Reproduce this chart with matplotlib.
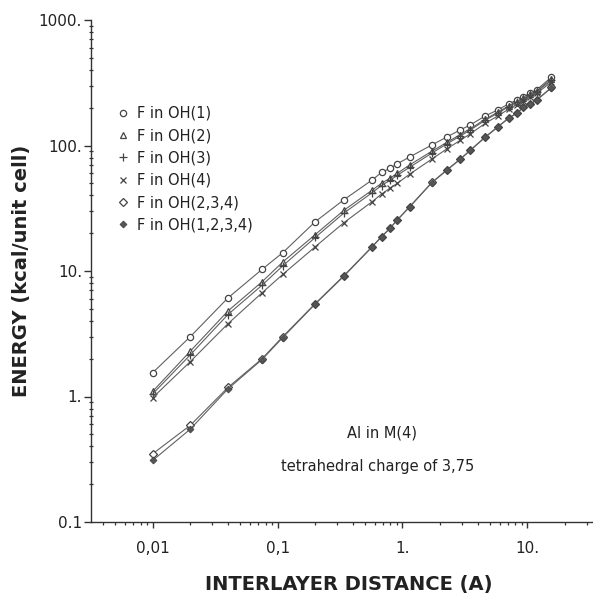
import matplotlib
matplotlib.use("Agg")
import matplotlib.pyplot as plt
from matplotlib.ticker import FixedLocator, FixedFormatter, LogLocator, NullFormatter

# ---- data ----
distance = [0.01, 0.02, 0.04, 0.075, 0.11, 0.2, 0.34, 0.57, 0.68, 0.8, 0.91, 1.14,
            1.72, 2.27, 2.9, 3.5, 4.6, 5.8, 7.1, 8.3, 9.3, 10.5, 11.9, 15.6]
oh1 = [1.55, 3.0, 6.1, 10.3, 14, 24.7, 37, 53, 61, 66, 71.5, 81,
       101, 117, 133, 146, 172, 192, 215, 231, 244, 262, 278, 350]
oh2 = [1.1, 2.3, 4.8, 8.2, 11.8, 19.5, 30.5, 44, 50, 55, 60, 70,
       90, 106, 122, 136, 162, 184, 207, 224, 238, 256, 272, 340]
oh3 = [1.05, 2.15, 4.5, 7.7, 11.0, 18.5, 29, 42, 48, 53, 58, 67,
       87, 103, 119, 133, 159, 181, 204, 221, 235, 253, 269, 330]
oh4 = [0.98, 1.9, 3.8, 6.7, 9.4, 15.6, 24.3, 35.6, 41, 46, 50, 59,
       78, 94, 110, 124, 150, 172, 195, 212, 226, 244, 261, 320]
oh234 = [0.35, 0.59, 1.18, 2.0, 3.0, 5.5, 9.2, 15.6, 18.8, 22.1, 25.6, 32.5,
         50.8, 64, 78, 92, 117, 141, 166, 182, 203, 214, 231, 290]
oh1234 = [0.31, 0.55, 1.15, 1.97, 2.95, 5.45, 9.1, 15.5, 18.7, 22, 25.5, 32.3,
          50.5, 63.5, 77.5, 91.5, 116, 140, 165, 181, 202, 213, 230, 288]

labels = ["F in OH(1)", "F in OH(2)", "F in OH(3)", "F in OH(4)",
          "F in OH(2,3,4)", "F in OH(1,2,3,4)"]
xticks = [0.01, 0.1, 1, 10]
xticklabels = ["0,01", "0,1", "1.", "10."]
yticks = [0.1, 1, 10, 100, 1000]
yticklabels = ["0.1", "1.", "10.", "100.", "1000."]

# ---- figure ----
W, H = 593, 597
fig = plt.figure(figsize=(W / 100, H / 100), dpi=100)
ax = fig.add_axes([91 / W, 75 / H, 502 / W, 502 / H])
ax.set_xscale("log")
ax.set_yscale("log")
ax.set_xlim(0.0032, 33.6)
ax.set_ylim(0.1, 1000)

lc = "#606060"
tc = "#222222"
series = [oh1, oh2, oh3, oh4, oh234, oh1234]
styles = [
    dict(marker="o", ms=4.5, mfc="white", mec="#444444", mew=0.9),
    dict(marker="^", ms=4.5, mfc="white", mec="#444444", mew=0.9),
    dict(marker="+", ms=6, mec="#444444", mew=0.9),
    dict(marker="x", ms=5, mec="#444444", mew=0.9),
    dict(marker="D", ms=3.8, mfc="white", mec="#444444", mew=0.9),
    dict(marker="D", ms=3.5, mfc="#555555", mec="#444444", mew=0.6),
]
for vals, st, lab in zip(series, styles, labels):
    ax.plot(distance, vals, color=lc, lw=0.8, label=lab, **st)

for s in ["top", "right"]:
    ax.spines[s].set_visible(False)
for s in ["left", "bottom"]:
    ax.spines[s].set_linewidth(1.0)
    ax.spines[s].set_color("#333333")

ax.xaxis.set_major_locator(FixedLocator(xticks))
ax.xaxis.set_major_formatter(FixedFormatter(xticklabels))
ax.yaxis.set_major_locator(FixedLocator(yticks))
ax.yaxis.set_major_formatter(FixedFormatter(yticklabels))
ax.xaxis.set_minor_locator(LogLocator(base=10, subs=range(2, 10), numticks=20))
ax.yaxis.set_minor_locator(LogLocator(base=10, subs=range(2, 10), numticks=20))
ax.xaxis.set_minor_formatter(NullFormatter())
ax.yaxis.set_minor_formatter(NullFormatter())

ax.tick_params(axis="x", which="major", direction="out", length=4.5, width=1,
               color="#333333", labelsize=11, labelcolor=tc, pad=9.5)
ax.tick_params(axis="x", which="minor", direction="out", length=2.5, width=0.9,
               color="#333333")
ax.tick_params(axis="y", which="major", direction="out", length=5, width=1,
               color="#333333", labelsize=11, labelcolor=tc, pad=1.5)
ax.tick_params(axis="y", which="minor", direction="inout", length=3.5, width=0.9,
               color="#333333")

ax.set_xlabel("INTERLAYER DISTANCE (A)", fontsize=14, fontweight="bold",
              color=tc)
ax.set_ylabel("ENERGY (kcal/unit cell)", fontsize=14, fontweight="bold",
              color=tc)
ax.xaxis.set_label_coords((349 - 91) / 502, -(575 - 522) / 502)
ax.yaxis.set_label_coords(-(91 - 31) / 502, 0.5)

leg = ax.legend(loc="upper left", bbox_to_anchor=(118 / W, 1 - 106 / H),
                bbox_transform=fig.transFigure, frameon=False,
                handlelength=0.7, handletextpad=0.6, labelspacing=0.5,
                fontsize=10.5, borderpad=0, borderaxespad=0)
for line in leg.get_lines():
    line.set_linestyle("none")
for t in leg.get_texts():
    t.set_color(tc)

ax.text(382, 597 - 433, "Al in M(4)", transform=None, fontsize=10.5,
        color=tc, ha="center", va="center")
ax.text(378, 597 - 467, "tetrahedral charge of 3,75", transform=None,
        fontsize=10.5, color=tc, ha="center", va="center")

fig.savefig("out.png", dpi=100)
